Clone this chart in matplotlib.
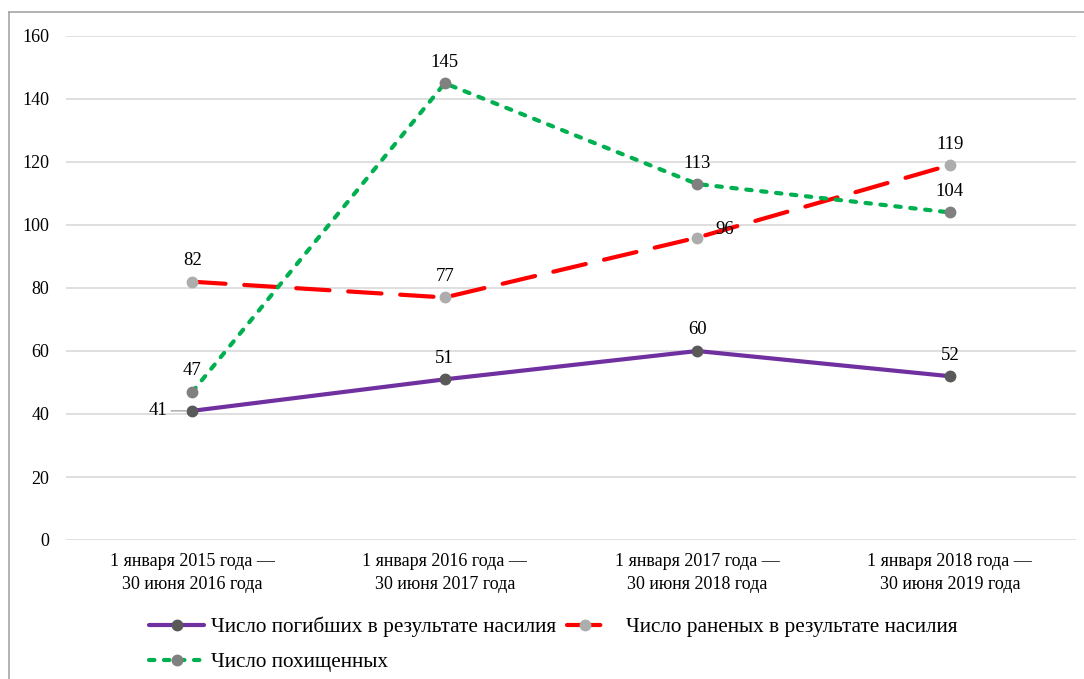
import matplotlib.pyplot as plt
from matplotlib.lines import Line2D

categories = [
    "1 января 2015 года —\n30 июня 2016 года",
    "1 января 2016 года —\n30 июня 2017 года",
    "1 января 2017 года —\n30 июня 2018 года",
    "1 января 2018 года —\n30 июня 2019 года",
]
killed = [41, 51, 60, 52]
wounded = [82, 77, 96, 119]
abducted = [47, 145, 113, 104]

names = [
    "Число погибших в результате насилия",
    "Число раненых в результате насилия",
    "Число похищенных",
]
y_ticks = [0, 20, 40, 60, 80, 100, 120, 140, 160]

plt.rcParams["font.family"] = ["Liberation Serif", "DejaVu Serif"]

W, H = 1084, 679
fig = plt.figure(figsize=(W / 100, H / 100), dpi=100)
ax = fig.add_axes([66 / W, 1 - 540 / H, (1076 - 66) / W, (540 - 36) / H])

x = list(range(len(categories)))

l1, = ax.plot(x, killed, color="#7030A0", lw=3, marker="o", ms=7.5,
              mfc="#595959", mec="#595959", solid_capstyle="round", zorder=3)
l2, = ax.plot(x, wounded, color="#FF0000", lw=3, dashes=(8, 4.5), marker="o", ms=7.5,
              mfc="#ADADAD", mec="#ADADAD", dash_capstyle="round", zorder=3)
l3, = ax.plot(x, abducted, color="#00B050", lw=3, dashes=(1.3, 2.3), marker="o", ms=7.5,
              mfc="#808080", mec="#808080", dash_capstyle="round", zorder=3)

ax.set_xlim(-0.5, len(categories) - 0.5)
ax.set_ylim(0, 160)
ax.set_yticks(y_ticks)
ax.set_xticks(x)
ax.set_xticklabels(categories, fontsize=13, linespacing=1.5)
ax.tick_params(axis="y", labelsize=13, length=0, pad=12)
ax.tick_params(axis="x", length=0, pad=9)
ax.grid(axis="y", color="#D9D9D9", lw=1.2)
ax.set_axisbelow(True)
for s in ax.spines.values():
    s.set_visible(False)

fs = 13.5
lab_kw = dict(fontsize=fs, ha="center", va="bottom")
for i, v in enumerate(killed):
    if i == 0:
        ax.annotate(str(v), (i, v), xytext=(-0.1, v), textcoords="data",
                    fontsize=fs, ha="right", va="center",
                    arrowprops=dict(arrowstyle="-", color="#A6A6A6", lw=1,
                                    shrinkA=1, shrinkB=4))
    else:
        ax.annotate(str(v), (i, v), xytext=(0, 9), textcoords="offset points", **lab_kw)
for i, v in enumerate(wounded):
    if i == 2:
        ax.annotate(str(v), (i, v), xytext=(13, 0), textcoords="offset points",
                    fontsize=fs, ha="left", va="bottom")
    else:
        ax.annotate(str(v), (i, v), xytext=(0, 9), textcoords="offset points", **lab_kw)
for i, v in enumerate(abducted):
    ax.annotate(str(v), (i, v), xytext=(0, 9), textcoords="offset points", **lab_kw)

# legend entries placed one by one, the source spaces them unevenly
leg_fs = 15.3
legend_items = [
    (l1, names[0], 149, 627, 2.6, 0.3),
    (l2, names[1], 567, 627, 1.7, 1.1),
    (l3, names[2], 149, 662, 2.6, 0.3),
]
for handle, label, lx, ly, hlen, hpad in legend_items:
    fig.legend([handle], [label], loc="center left",
               bbox_to_anchor=(lx / W, 1 - ly / H), frameon=False,
               fontsize=leg_fs, handlelength=hlen, handletextpad=hpad,
               borderpad=0, borderaxespad=0)

# outer frame (top and left only, as in the source)
fig.add_artist(Line2D([9 / W, 1], [1 - 12 / H, 1 - 12 / H], color="#A6A6A6", lw=1.2))
fig.add_artist(Line2D([9 / W, 9 / W], [0, 1 - 12 / H], color="#A6A6A6", lw=1.2))

fig.savefig("out.png", dpi=100)
